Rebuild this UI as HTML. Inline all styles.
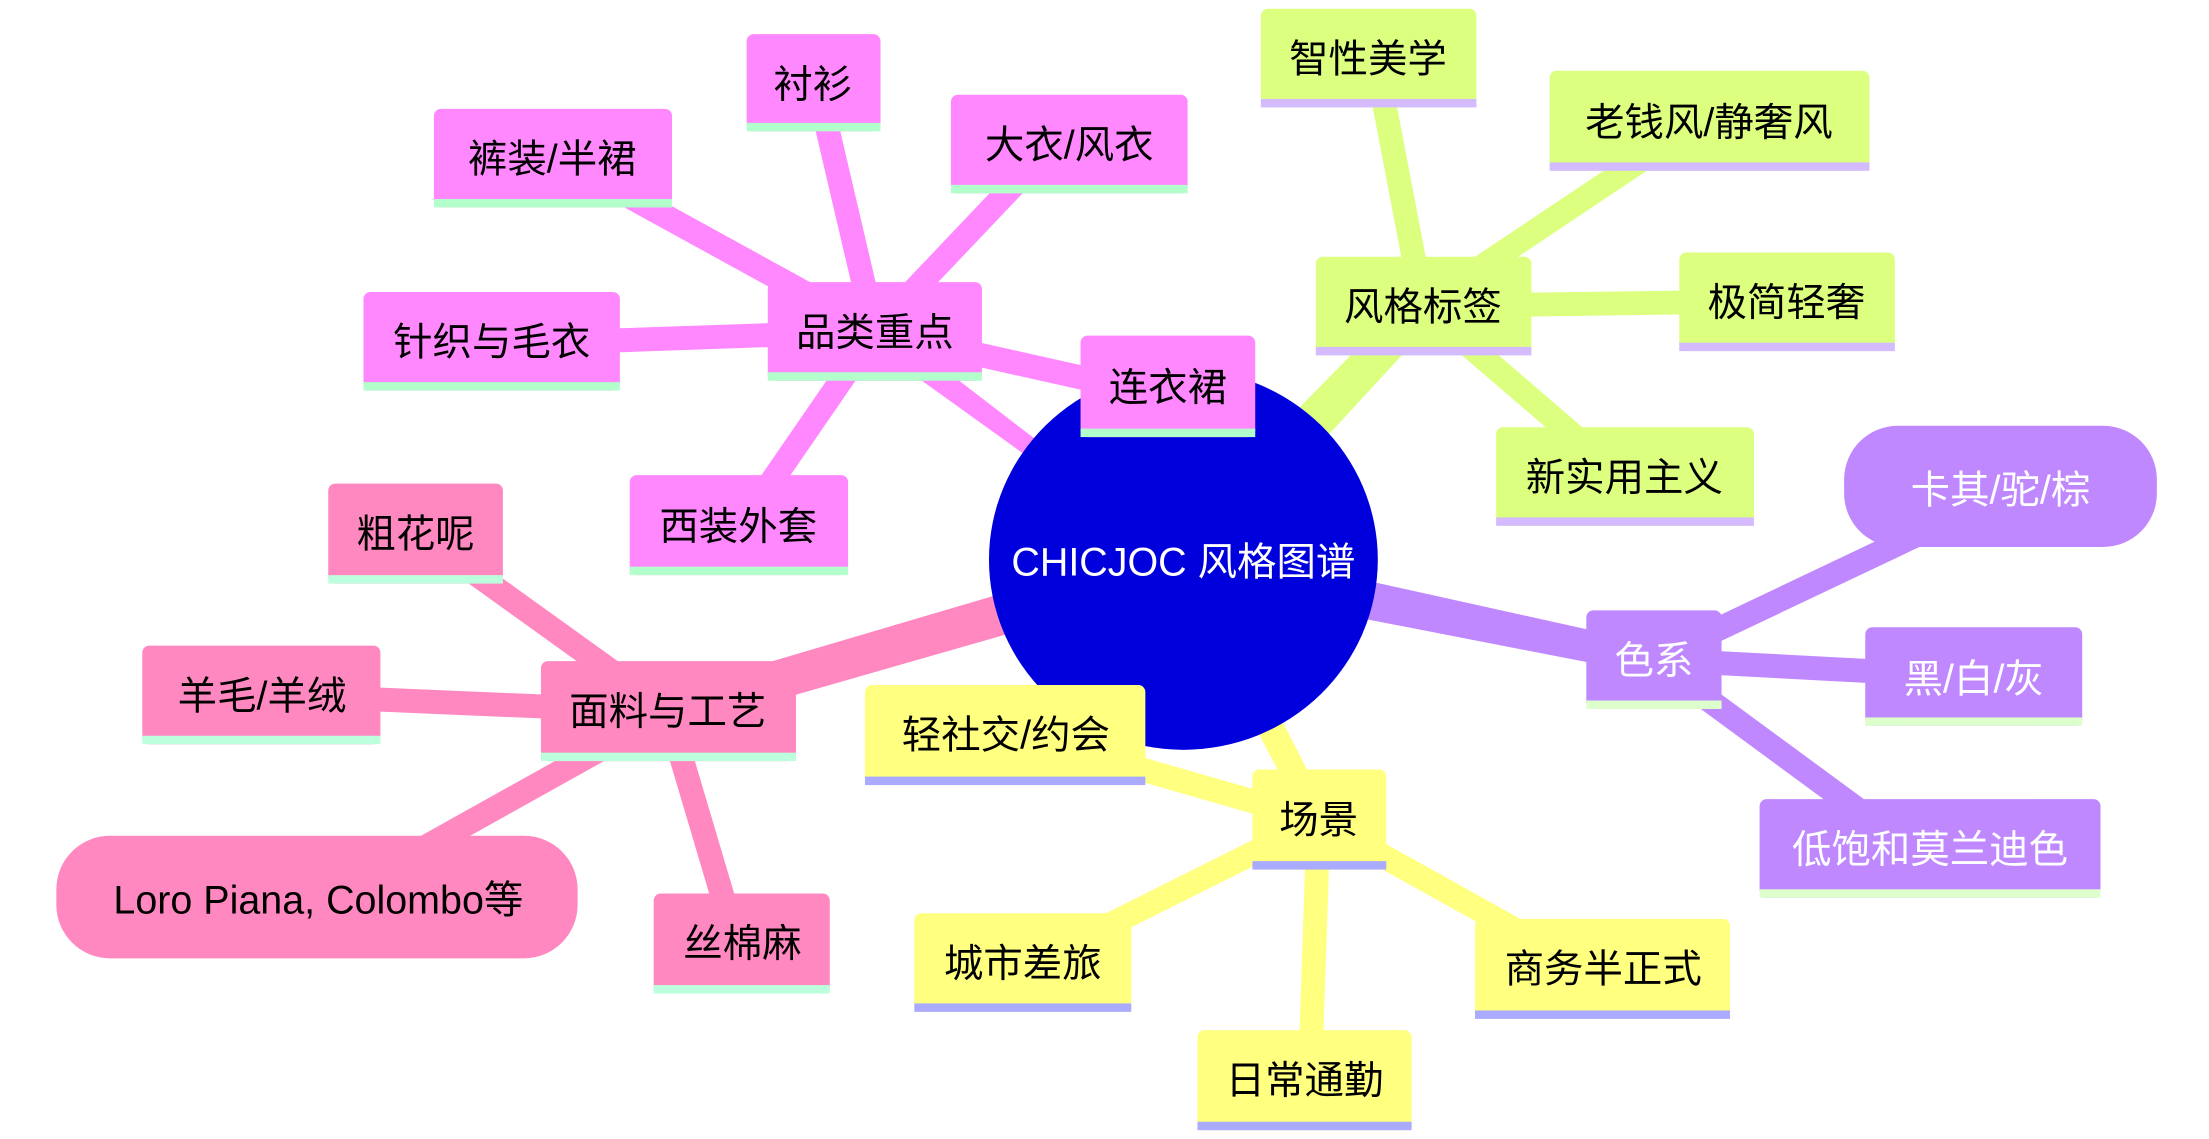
<!DOCTYPE html>
<html><head><meta charset="utf-8"><style>
html,body{margin:0;padding:0;background:#fff;}
svg{display:block;}
text{font-family:"Liberation Sans","Noto Sans CJK SC",sans-serif;font-size:28px;text-anchor:middle;dominant-baseline:central;}
</style></head><body>
<svg width="2209" height="1139" viewBox="0 0 1568 808" xmlns="http://www.w3.org/2000/svg">
<rect width="1568" height="808" fill="#fff"/>
<g stroke-linecap="butt">
<polygon points="828,383 852,412 621,246 621,224" fill="#ff88ff"/>
<g stroke="#ff88ff" stroke-width="17">
<line x1="621" y1="235" x2="580" y2="60"/>
<line x1="621" y1="235" x2="430" y2="130"/>
<line x1="621" y1="235" x2="735" y2="115"/>
<line x1="621" y1="235" x2="420" y2="242"/>
<line x1="621" y1="235" x2="535" y2="360"/>
<line x1="621" y1="235" x2="800" y2="275"/>
</g>
<polygon points="828,385 852,407 1019,226 1001,209" fill="#dcff80"/>
<g stroke="#dcff80" stroke-width="17">
<line x1="1010" y1="217" x2="980" y2="60"/>
<line x1="1010" y1="217" x2="1170" y2="110"/>
<line x1="1010" y1="217" x2="1230" y2="214"/>
<line x1="1010" y1="217" x2="1130" y2="320"/>
</g>
<polygon points="840,383 840,414 1174,479 1174,457" fill="#c088ff"/>
<g stroke="#c088ff" stroke-width="17">
<line x1="1174" y1="468" x2="1370" y2="375"/>
<line x1="1174" y1="468" x2="1400" y2="480"/>
<line x1="1174" y1="468" x2="1340" y2="590"/>
</g>
<polygon points="828,397 852,397 945,580 927,584" fill="#ffff80"/>
<g stroke="#ffff80" stroke-width="17">
<line x1="936" y1="582" x2="720" y2="520"/>
<line x1="936" y1="582" x2="720" y2="690"/>
<line x1="936" y1="582" x2="930" y2="760"/>
<line x1="936" y1="582" x2="1130" y2="690"/>
</g>
<polygon points="840,383 840,414 474,519 474,491" fill="#ff88c0"/>
<g stroke="#ff88c0" stroke-width="17">
<line x1="474" y1="505" x2="300" y2="380"/>
<line x1="474" y1="505" x2="190" y2="493"/>
<line x1="474" y1="505" x2="250" y2="630"/>
<line x1="474" y1="505" x2="520" y2="660"/>
</g>
</g>

<ellipse cx="840" cy="397" rx="138" ry="135" fill="#0000dd"/>
<text x="840" y="399" fill="#fff" style="font-size:28px">CHICJOC 风格图谱</text>

<g fill="#ff88ff">
<rect x="545" y="200" width="152" height="70" rx="5"/>
<rect x="530" y="24" width="95" height="69" rx="5"/>
<rect x="308" y="77" width="169" height="70" rx="5"/>
<rect x="675" y="67" width="168" height="70" rx="5"/>
<rect x="258" y="207" width="182" height="70" rx="5"/>
<rect x="447" y="337" width="155" height="71" rx="5"/>
<rect x="767" y="238" width="124" height="72" rx="5"/>
</g>
<g fill="#b3ffcc">
<rect x="545" y="264" width="152" height="6"/>
<rect x="530" y="87" width="95" height="6"/>
<rect x="308" y="141" width="169" height="6"/>
<rect x="675" y="131" width="168" height="6"/>
<rect x="258" y="271" width="182" height="6"/>
<rect x="447" y="402" width="155" height="6"/>
<rect x="767" y="304" width="124" height="6"/>
</g>
<g fill="#000">
<text x="621" y="236">品类重点</text>
<text x="577" y="60">衬衫</text>
<text x="392" y="113">裤装/半裙</text>
<text x="759" y="103">大衣/风衣</text>
<text x="349" y="243">针织与毛衣</text>
<text x="524" y="374">西装外套</text>
<text x="829" y="275">连衣裙</text>
</g>

<g fill="#dcff80">
<rect x="934" y="182" width="153" height="70" rx="5"/>
<rect x="895" y="6" width="153" height="70" rx="5"/>
<rect x="1100" y="50" width="227" height="71" rx="5"/>
<rect x="1192" y="179" width="153" height="70" rx="5"/>
<rect x="1062" y="303" width="183" height="70" rx="5"/>
</g>
<g fill="#d4bbff">
<rect x="934" y="246" width="153" height="6"/>
<rect x="895" y="70" width="153" height="6"/>
<rect x="1100" y="115" width="227" height="6"/>
<rect x="1192" y="243" width="153" height="6"/>
<rect x="1062" y="367" width="183" height="6"/>
</g>
<g fill="#000">
<text x="1010" y="218">风格标签</text>
<text x="971" y="42">智性美学</text>
<text x="1213" y="87">老钱风/静奢风</text>
<text x="1268" y="215">极简轻奢</text>
<text x="1153" y="339">新实用主义</text>
</g>

<g fill="#c088ff">
<rect x="1126" y="433" width="96" height="70" rx="5"/>
<rect x="1309" y="302" width="222" height="86" rx="38"/>
<rect x="1324" y="445" width="154" height="70" rx="5"/>
<rect x="1249" y="567" width="242" height="70" rx="5"/>
</g>
<g fill="#ddffcc">
<rect x="1126" y="497" width="96" height="6"/>
<rect x="1324" y="509" width="154" height="6"/>
<rect x="1249" y="631" width="242" height="6"/>
</g>
<g fill="#fff">
<text x="1174" y="469">色系</text>
<text x="1420" y="348">卡其/驼/棕</text>
<text x="1401" y="482">黑/白/灰</text>
<text x="1370" y="603">低饱和莫兰迪色</text>
</g>

<g fill="#ffff80">
<rect x="889" y="546" width="95" height="71" rx="5"/>
<rect x="614" y="486" width="199" height="71" rx="5"/>
<rect x="649" y="648" width="154" height="70" rx="5"/>
<rect x="850" y="731" width="152" height="71" rx="5"/>
<rect x="1047" y="652" width="181" height="71" rx="5"/>
</g>
<g fill="#aaaaff">
<rect x="889" y="611" width="95" height="6"/>
<rect x="614" y="551" width="199" height="6"/>
<rect x="649" y="712" width="154" height="6"/>
<rect x="850" y="796" width="152" height="6"/>
<rect x="1047" y="717" width="181" height="6"/>
</g>
<g fill="#000">
<text x="936" y="582">场景</text>
<text x="714" y="522">轻社交/约会</text>
<text x="726" y="684">城市差旅</text>
<text x="926" y="767">日常通勤</text>
<text x="1138" y="688">商务半正式</text>
</g>

<g fill="#ff88c0">
<rect x="384" y="469" width="181" height="71" rx="5"/>
<rect x="233" y="343" width="124" height="71" rx="5"/>
<rect x="101" y="458" width="169" height="70" rx="5"/>
<rect x="40" y="593" width="370" height="87" rx="38"/>
<rect x="464" y="634" width="125" height="71" rx="5"/>
</g>
<g fill="#bbffdd">
<rect x="384" y="534" width="181" height="6"/>
<rect x="233" y="408" width="124" height="6"/>
<rect x="101" y="522" width="169" height="6"/>
<rect x="464" y="699" width="125" height="6"/>
</g>
<g fill="#000">
<text x="474" y="505">面料与工艺</text>
<text x="295" y="379">粗花呢</text>
<text x="186" y="494">羊毛/羊绒</text>
<text x="226" y="639">Loro Piana, Colombo等</text>
<text x="527" y="670">丝棉麻</text>
</g>
</svg>
</body></html>
